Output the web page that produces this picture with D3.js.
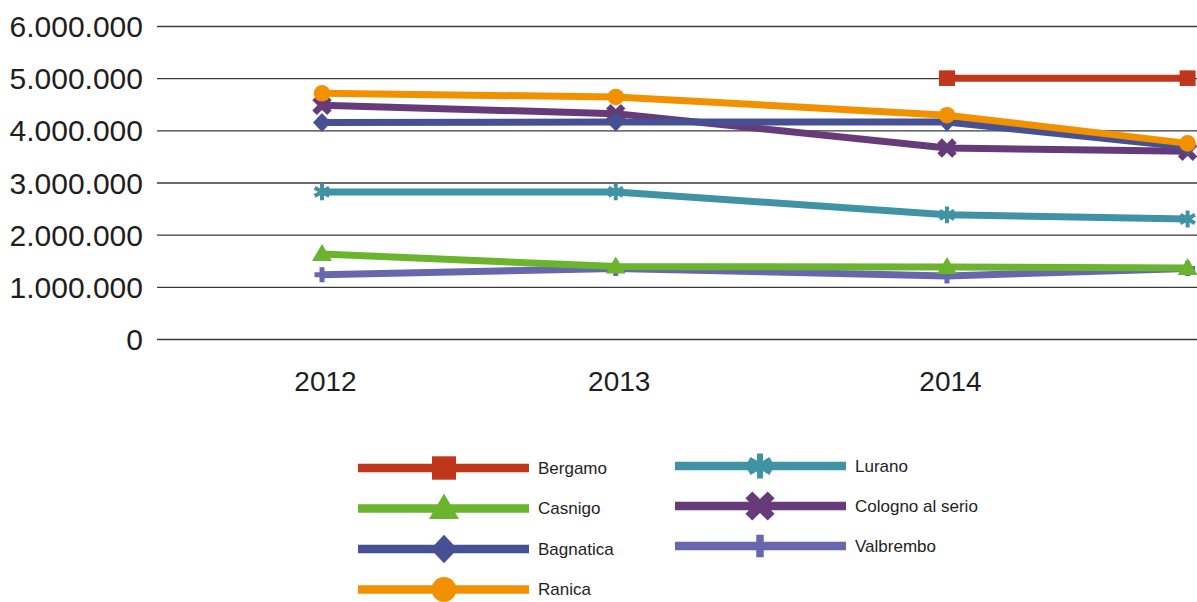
<!DOCTYPE html>
<html>
<head>
<meta charset="utf-8">
<script src="https://cdn.jsdelivr.net/npm/d3@7"></script>
<style>
  body { margin: 0; background: #fff; }
  svg { font-family: "Helvetica Neue", Helvetica, "Liberation Sans", Arial, sans-serif; }
</style>
</head>
<body>
<div id="chart"></div>
<script>
'use strict';

const periods = [2012, 2012.94, 2014, 2014.77];
const tickLabels = ['2012', '2013', '2014'];
const yTicks = [0, 1000000, 2000000, 3000000, 4000000, 5000000, 6000000];

const names = ['Bergamo', 'Casnigo', 'Bagnatica', 'Ranica', 'Lurano', 'Cologno al serio', 'Valbrembo'];
const bergamo = [null, null, 5000000, 5000000];
const casnigo = [1630000, 1390000, 1380000, 1360000];
const bagnatica = [4150000, 4160000, 4160000, 3680000];
const ranica = [4710000, 4640000, 4290000, 3750000];
const lurano = [2820000, 2820000, 2380000, 2300000];
const cologno = [4480000, 4320000, 3660000, 3600000];
const valbrembo = [1230000, 1350000, 1210000, 1350000];

const colors = ['#c0361b', '#6bb42e', '#465193', '#f29100', '#3f93a4', '#673b7a', '#6767ad'];
const shapes = ['square', 'triangle', 'diamond', 'circle', 'asterisk', 'times', 'plus'];

const series = [bergamo, casnigo, bagnatica, ranica, lurano, cologno, valbrembo].map((vals, i) => ({
    name: names[i],
    color: colors[i],
    shape: shapes[i],
    values: vals.map((v, j) => ({ x: periods[j], y: v }))
}));

// order the lines are painted in
const drawOrder = ['Valbrembo', 'Cologno al serio', 'Lurano', 'Bagnatica', 'Casnigo', 'Ranica', 'Bergamo'];

const width = 1197, height = 602;
const svg = d3.select('#chart').append('svg')
    .attr('width', width)
    .attr('height', height);

const x = d3.scaleLinear().domain([2012, 2014]).range([322, 947]);
const y = d3.scaleLinear().domain([0, 6000000]).range([339, 26]);

const it = d3.formatLocale({ decimal: ',', thousands: '.', grouping: [3], currency: ['€', ''] });
const fmt = it.format(',');

// grid + y labels
const yAxis = svg.append('g').attr('transform', 'translate(157,0)')
    .call(d3.axisLeft(y).tickValues(yTicks).tickFormat(fmt).tickSize(-(width - 157)).tickPadding(14));
yAxis.select('.domain').remove();
yAxis.selectAll('.tick line').attr('stroke', '#3a3a3a').attr('stroke-width', 1.4);
yAxis.selectAll('.tick text')
    .attr('fill', '#1e1e1e')
    .style('font-size', '30px')
    .attr('dy', '0.35em');

// x labels
const xAxis = svg.append('g').attr('transform', 'translate(3,339)')
    .call(d3.axisBottom(x).tickValues(periods.slice(0, 3)).tickFormat((d, i) => tickLabels[i]).tickSize(0).tickPadding(32));
xAxis.select('.domain').remove();
xAxis.selectAll('.tick text')
    .attr('fill', '#1e1e1e')
    .style('font-size', '28px')
    .attr('dy', '0.71em');

function crossPath(len, w) {
    const a = len / 2, b = w / 2;
    return `M${-b},${-a}H${b}V${-b}H${a}V${b}H${b}V${a}H${-b}V${b}H${-a}V${-b}H${-b}Z`;
}

function drawMarker(g, shape, color, k) {
    switch (shape) {
    case 'square':
        g.append('rect').attr('x', -8 * k).attr('y', -7.8 * k).attr('width', 16 * k).attr('height', 15.6 * k).attr('fill', color);
        break;
    case 'triangle':
        g.append('path').attr('d', `M0,${-10 * k}L${10 * k},${7 * k}L${-10 * k},${7 * k}Z`).attr('fill', color);
        break;
    case 'diamond':
        g.append('path').attr('d', `M0,${-9.5 * k}L${9 * k},0L0,${9.5 * k}L${-9 * k},0Z`).attr('fill', color);
        break;
    case 'circle':
        g.append('circle').attr('r', 8.3 * k).attr('fill', color);
        break;
    case 'asterisk':
        g.append('path').attr('d', d3.symbol(d3.symbolAsterisk, 200 * k * k)())
            .attr('stroke', color).attr('stroke-width', 4 * k).attr('fill', 'none');
        break;
    case 'times':
        g.append('path').attr('d', crossPath(21 * k, 6.5 * k)).attr('transform', 'rotate(45)').attr('fill', color);
        break;
    case 'plus':
        g.append('path').attr('d', crossPath(15 * k, 5 * k)).attr('fill', color);
        break;
    }
}

const line = d3.line()
    .defined(d => d.y !== null)
    .x(d => x(d.x))
    .y(d => y(d.y));

const plot = svg.append('g');
drawOrder.forEach(name => {
    const s = series.find(d => d.name === name);
    const g = plot.append('g');
    g.append('path')
        .datum(s.values)
        .attr('fill', 'none')
        .attr('stroke', s.color)
        .attr('stroke-width', 7)
        .attr('stroke-linejoin', 'round')
        .attr('d', line);
    g.selectAll('.m')
        .data(s.values.filter(d => d.y !== null))
        .enter().append('g')
        .attr('class', 'm')
        .attr('transform', d => `translate(${x(d.x)},${y(d.y)})`)
        .each(function () { drawMarker(d3.select(this), s.shape, s.color, 1); });
});

// legend, two columns
const legend = svg.append('g');
series.forEach((s, i) => {
    const col = i < 4 ? 0 : 1;
    const row = i < 4 ? i : i - 4;
    const lx = col === 0 ? 358 : 675;
    const ly = col === 0 ? 468 + row * 40.5 : 466 + row * 40;
    const g = legend.append('g').attr('transform', `translate(${lx},${ly})`);
    g.append('line')
        .attr('x1', 0).attr('x2', 171)
        .attr('stroke', s.color).attr('stroke-width', 8.5);
    const m = g.append('g').attr('transform', `translate(${col === 0 ? 86 : 85},0)`);
    drawMarker(m, s.shape, s.color, 1.5);
    g.append('text')
        .attr('x', 180)
        .attr('dy', '0.35em')
        .attr('fill', '#1e1e1e')
        .style('font-size', '17px')
        .text(s.name);
});
</script>
</body>
</html>
